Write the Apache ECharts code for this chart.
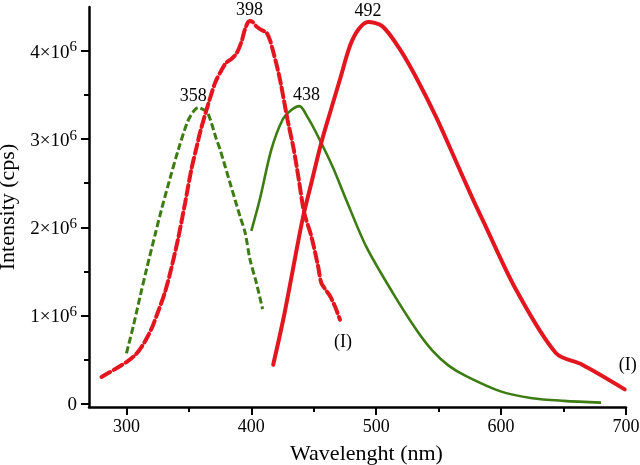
<!DOCTYPE html>
<html>
<head>
<meta charset="utf-8">
<script src="https://cdn.jsdelivr.net/npm/echarts@6/dist/echarts.min.js"></script>
<style>html,body{margin:0;padding:0;background:#fff}#c{width:640px;height:465px}</style>
</head>
<body>
<div id="c"></div>
<script>
// ---- data (intensity in units of 10^6 cps) ----
const excI_x = [280, 292, 300, 307, 312, 317, 321, 325, 331, 336, 341.5, 347, 352, 356, 359, 365, 371, 376, 380, 384, 388, 392, 395, 398.5, 401, 404, 408, 412, 415, 417, 421, 424, 429, 434, 438, 442.4, 448, 453.4, 456, 460, 463, 467, 471];
const excI_y = [0.30, 0.40, 0.47, 0.55, 0.64, 0.76, 0.88, 1.03, 1.27, 1.54, 1.88, 2.28, 2.66, 2.90, 3.08, 3.375, 3.64, 3.78, 3.87, 3.91, 3.97, 4.10, 4.25, 4.34, 4.33, 4.28, 4.24, 4.21, 4.12, 4.02, 3.80, 3.60, 3.22, 2.88, 2.54, 2.16, 1.90, 1.56, 1.37, 1.28, 1.22, 1.10, 0.95];

const excII_x = [300, 305.5, 311, 316, 323, 328, 335, 341.5, 349, 354, 357.5, 361, 365, 372, 375, 383, 391, 395, 399, 404, 409];
const excII_y = [0.57, 0.88, 1.22, 1.52, 1.92, 2.20, 2.56, 2.88, 3.20, 3.32, 3.36, 3.34, 3.30, 3.00, 2.88, 2.50, 2.12, 1.94, 1.63, 1.37, 1.07];

const emII_x = [400, 407, 416, 425, 432, 438.5, 445, 452, 465, 476, 492, 513.5, 532, 545, 558, 572, 599, 625, 650, 680];
const emII_y = [1.96, 2.33, 2.88, 3.22, 3.33, 3.375, 3.25, 3.07, 2.69, 2.31, 1.78, 1.25, 0.84, 0.60, 0.43, 0.31, 0.14, 0.06, 0.03, 0.01];

const emI_x = [417.5, 425.5, 433, 441, 448, 456, 463, 471, 479, 486, 493.5, 505, 519, 532, 548, 561, 577, 585, 612, 644, 665, 699];
const emI_y = [0.44, 0.95, 1.50, 2.09, 2.50, 2.96, 3.30, 3.68, 4.06, 4.25, 4.33, 4.28, 4.02, 3.70, 3.25, 2.84, 2.33, 2.09, 1.29, 0.57, 0.44, 0.16];

const peakLabels = [
  {text: '398', x: 398.5, y: 4.34},
  {text: '358', x: 357.5, y: 3.36},
  {text: '438', x: 438.5, y: 3.375},
  {text: '492', x: 493.5, y: 4.33}
];

const xMajorTicks = [300, 400, 500, 600, 700];
const xMinorTicks = [350, 450, 550, 650];
const yMajorTicks = [0, 1, 2, 3, 4];
const yMinorTicks = [0.5, 1.5, 2.5, 3.5];

const xTitle = 'Wavelenght (nm)';
const yTitle = 'Intensity (cps)';

// ---- chart ----
const RED = '#e3161f';
const GREEN = '#3d7c12';
const FONT = '"Liberation Serif", "Times New Roman", serif';

function pairs(xs, ys) { return xs.map((x, i) => [x, ys[i]]); }

const chart = echarts.init(document.getElementById('c'), null, {renderer: 'canvas'});

const axisLineStyle = {color: '#000', width: 2.5};

const option = {
  animation: false,
  backgroundColor: '#fff',
  grid: {left: 89, right: 14, top: 7, bottom: 58, containLabel: false, outerBoundsMode: 'none'},
  xAxis: [
    {
      type: 'value', min: 270, max: 700,
      name: xTitle, nameLocation: 'middle', nameGap: 36,
      nameTextStyle: {fontFamily: FONT, fontSize: 22, color: '#000', padding: [0, 0, 0, 18]},
      axisLine: {show: true, onZero: false, lineStyle: axisLineStyle},
      axisTick: {show: true, customValues: xMajorTicks, length: 8, lineStyle: {color: '#000', width: 2}},
      axisLabel: {customValues: xMajorTicks, fontFamily: FONT, fontSize: 18, color: '#000', margin: 11},
      splitLine: {show: false}
    },
    {
      type: 'value', min: 270, max: 700, position: 'bottom',
      axisLine: {show: false, onZero: false},
      axisTick: {show: true, customValues: xMinorTicks, length: 5, lineStyle: {color: '#000', width: 2}},
      axisLabel: {show: false},
      splitLine: {show: false}
    }
  ],
  yAxis: [
    {
      type: 'value', min: -0.04, max: 4.5,
      name: yTitle, nameLocation: 'middle', nameGap: 67,
      nameTextStyle: {fontFamily: FONT, fontSize: 22, color: '#000'},
      axisLine: {show: true, onZero: false, lineStyle: axisLineStyle},
      axisTick: {show: true, customValues: yMajorTicks, length: 8, lineStyle: {color: '#000', width: 2}},
      axisLabel: {
        customValues: yMajorTicks, margin: 12, color: '#000',
        formatter: v => v === 0 ? '{b|0}' : '{b|' + v + '×10}{s|6}',
        rich: {
          b: {fontFamily: FONT, fontSize: 19, color: '#000', verticalAlign: 'bottom', lineHeight: 22},
          s: {fontFamily: FONT, fontSize: 15, color: '#000', verticalAlign: 'top', lineHeight: 22, padding: [0, 0, 6, 0]}
        }
      },
      splitLine: {show: false}
    },
    {
      type: 'value', min: -0.04, max: 4.5, position: 'left',
      axisLine: {show: false, onZero: false},
      axisTick: {show: true, customValues: yMinorTicks, length: 5, lineStyle: {color: '#000', width: 2}},
      axisLabel: {show: false},
      splitLine: {show: false}
    }
  ],
  series: [
    {
      name: 'exc II', type: 'line', data: pairs(excII_x, excII_y), smooth: 0.3,
      showSymbol: false, clip: false,
      lineStyle: {color: GREEN, width: 3, type: [7, 3]},
      z: 2
    },
    {
      name: 'em II', type: 'line', data: pairs(emII_x, emII_y), smooth: 0.3,
      showSymbol: false, clip: false,
      lineStyle: {color: GREEN, width: 2.6},
      z: 2
    },
    {
      name: 'exc I', type: 'line', data: pairs(excI_x, excI_y), smooth: 0.3,
      showSymbol: false, clip: false,
      lineStyle: {color: RED, width: 4, type: [10, 4], cap: 'round'},
      markPoint: {
        symbol: 'circle', symbolSize: 0, silent: true,
        data: [{coord: [excI_x[excI_x.length - 1], excI_y[excI_y.length - 1]], value: '(I)',
                label: {show: true, formatter: '(I)', offset: [3, 22], fontFamily: FONT, fontSize: 18, color: '#000'}}]
      },
      z: 3
    },
    {
      name: 'em I', type: 'line', data: pairs(emI_x, emI_y), smooth: 0.3,
      showSymbol: false, clip: false,
      lineStyle: {color: RED, width: 4, cap: 'round'},
      markPoint: {
        symbol: 'circle', symbolSize: 0, silent: true,
        data: [{coord: [emI_x[emI_x.length - 1], emI_y[emI_y.length - 1]], value: '(I)',
                label: {show: true, formatter: '(I)', offset: [3, -24], fontFamily: FONT, fontSize: 18, color: '#000'}}]
      },
      z: 3
    },
    {
      name: 'peaks', type: 'scatter', symbolSize: 0, silent: true,
      itemStyle: {opacity: 1},
      data: peakLabels.map(p => ({value: [p.x, p.y], name: p.text})),
      label: {
        show: true, position: 'top', distance: 3, formatter: p => p.name,
        fontFamily: FONT, fontSize: 18, color: '#000'
      },
      z: 5
    }
  ]
};

// per-peak label nudges (styling only)
const nudges = {'398': [0, 1], '358': [-5, 1], '438': [7, 1], '492': [0, 1]};
option.series[4].data.forEach(d => { d.label = {offset: nudges[d.name]}; });

chart.setOption(option);
</script>
</body>
</html>
